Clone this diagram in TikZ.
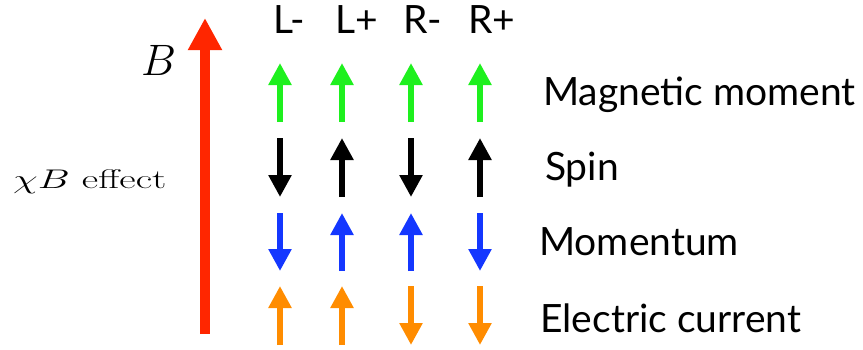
\documentclass[tikz,border=0pt]{standalone}
\usepackage{fontspec}
\usepackage{anyfontsize}
\setsansfont{Lato}
\usepackage{tikz}
\usetikzlibrary{arrows.meta,positioning}

\definecolor{fieldred}{RGB}{255,38,0}
\definecolor{momgreen}{RGB}{30,240,30}
\definecolor{pblue}{RGB}{20,55,255}
\definecolor{corange}{RGB}{255,140,0}

\tikzset{
	vec/.style={line width=5.5pt,-{Triangle[length=22pt,width=22pt]}},
	lbl/.style={anchor=base west,inner sep=0pt,font=\sffamily\fontsize{39}{39}\selectfont},
}

\begin{document}
\begin{tikzpicture}[x=1pt,y=-1pt]
		\useasboundingbox (0,0) rectangle (863,349);

		% field
		\draw[fieldred,line width=9.5pt,-{Triangle[length=32pt,width=32pt]}] (205,334) -- (205,18);
		\node[anchor=base west,inner sep=0pt,font=\fontsize{44}{44}\selectfont] (bfield) at (141,75) {$B$};
		\node[anchor=base west,inner sep=0pt,font=\fontsize{27}{27}\selectfont] (chib) at (13,188) {\scalebox{1.49}[1]{$\chi B$ effect}};

		% columns
		\node[lbl] (lm) at (273,33) {L-};
		\node[lbl] (lp) at (335,33) {L+};
		\node[lbl] (rm) at (403,33) {R-};
		\node[lbl] (rp) at (468,33) {R+};

		% magnetic moment
		\draw[vec,momgreen] (280,122) -- (280,63);
		\draw[vec,momgreen] (342,122) -- (342,63);
		\draw[vec,momgreen] (411,122) -- (411,63);
		\draw[vec,momgreen] (480,122) -- (480,63);

		% spin
		\draw[vec,black] (280,138) -- (280,197);
		\draw[vec,black] (342,197) -- (342,138);
		\draw[vec,black] (411,138) -- (411,197);
		\draw[vec,black] (480,197) -- (480,138);

		% momentum
		\draw[vec,pblue] (280,213) -- (280,271);
		\draw[vec,pblue] (342,271) -- (342,213);
		\draw[vec,pblue] (411,271) -- (411,213);
		\draw[vec,pblue] (480,213) -- (480,271);

		% current
		\draw[vec,corange] (280,345) -- (280,286);
		\draw[vec,corange] (342,345) -- (342,286);
		\draw[vec,corange] (411,286) -- (411,345);
		\draw[vec,corange] (480,286) -- (480,345);

		\node[lbl] (mag) at (543,105) {Magnetic moment};
		\node[lbl] (spin) at (545,180) {Spin};
		\node[lbl] (mom) at (539,255) {Momentum};
		\node[lbl] (cur) at (540,332) {Electric current};
	\end{tikzpicture}
\end{document}
